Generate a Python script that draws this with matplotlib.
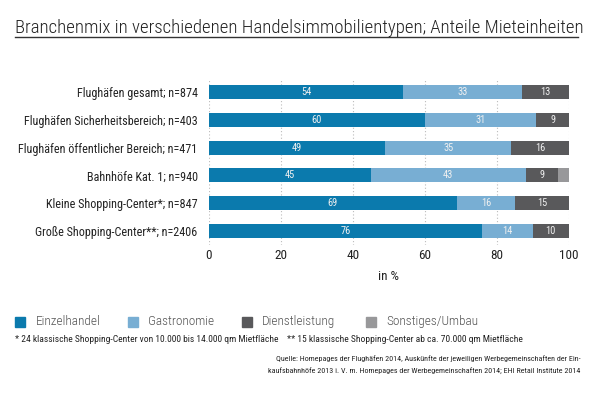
import matplotlib
matplotlib.use("Agg")
import matplotlib.pyplot as plt
from matplotlib.patches import Rectangle
from matplotlib.lines import Line2D

plt.rcParams['font.family'] = ['Roboto Condensed', 'DejaVu Sans']

# Daten
kategorien = [
    'Flughäfen gesamt; n=874',
    'Flughäfen Sicherheitsbereich; n=403',
    'Flughäfen öffentlicher Bereich; n=471',
    'Bahnhöfe Kat. 1; n=940',
    'Kleine Shopping-Center*; n=847',
    'Große Shopping-Center**; n=2406',
]
einzelhandel = [54, 60, 49, 45, 69, 76]
gastronomie = [33, 31, 35, 43, 16, 14]
dienstleistung = [13, 9, 16, 9, 15, 10]
sonstiges = [0, 0, 0, 3, 0, 0]
serien_namen = ['Einzelhandel', 'Gastronomie', 'Dienstleistung', 'Sonstiges/Umbau']
x_ticks = [0, 20, 40, 60, 80, 100]

farben = ['#0b7aad', '#78aed3', '#59595b', '#98989a']
serien = [einzelhandel, gastronomie, dienstleistung, sonstiges]

fig = plt.figure(figsize=(6, 3.93), dpi=100)
ax = fig.add_axes([0.348, 0.377, 0.6, 0.419])

pos = list(range(len(kategorien)))
links = [0] * len(kategorien)
for werte, farbe, name in zip(serien, farben, serien_namen):
    ax.barh(pos, werte, left=links, height=0.5, color=farbe, zorder=2, label=name)
    for i, w in enumerate(werte):
        if w >= 5:
            ax.text(links[i] + w / 2, i, str(w), ha='center', va='center',
                    color='#f0f0f0', fontsize=7.5, zorder=3)
    links = [l + w for l, w in zip(links, werte)]

ax.set_xlim(0, 100)
ax.set_ylim(5.5, -0.43)
ax.set_xticks(x_ticks)
ax.set_xticklabels([str(t) for t in x_ticks], fontsize=9.5, color='#222222')
ax.set_yticks(pos)
ax.set_yticklabels(kategorien, fontsize=8.7, color='#222222')
ax.tick_params(length=0, axis='y', pad=8)
ax.tick_params(length=0, axis='x', pad=3)
for s in ax.spines.values():
    s.set_visible(False)
ax.grid(axis='x', linestyle=(0, (1, 2)), color='#bbbbbb', linewidth=0.8, zorder=0)
ax.set_xlabel('in %', fontsize=9.5, color='#222222', labelpad=6)

# Titel mit Unterstreichung
fig.text(0.025, 0.93, 'Branchenmix in verschiedenen Handelsimmobilientypen; Anteile Mieteinheiten',
         fontsize=13.5, color='#222222', ha='left', va='center', fontweight='light')
fig.add_artist(Line2D([0.025, 0.963], [0.905, 0.905], color='#333333', linewidth=1))

# Legende
leg_x = [0.025, 0.213, 0.403, 0.61]
for lx, farbe, name in zip(leg_x, farben, serien_namen):
    fig.add_artist(Rectangle((lx, 0.168), 0.017, 0.026, color=farbe, transform=fig.transFigure))
    fig.text(lx + 0.034, 0.181, name, fontsize=9.5, color='#555555', va='center', fontweight='light')

fig.text(0.025, 0.137, '* 24 klassische Shopping-Center von 10.000 bis 14.000 qm Mietfläche    '
         '** 15 klassische Shopping-Center ab ca. 70.000 qm Mietfläche',
         fontsize=6.8, color='#222222', va='center')
fig.text(0.967, 0.072, 'Quelle: Homepages der Flughäfen 2014, Auskünfte der jeweiligen Werbegemeinschaften der Ein-\n'
         'kaufsbahnhöfe 2013 i. V. m. Homepages der Werbegemeinschaften 2014; EHI Retail Institute 2014',
         fontsize=5.8, color='#222222', ha='right', va='center', linespacing=1.8)

fig.savefig('out.png', dpi=100)
